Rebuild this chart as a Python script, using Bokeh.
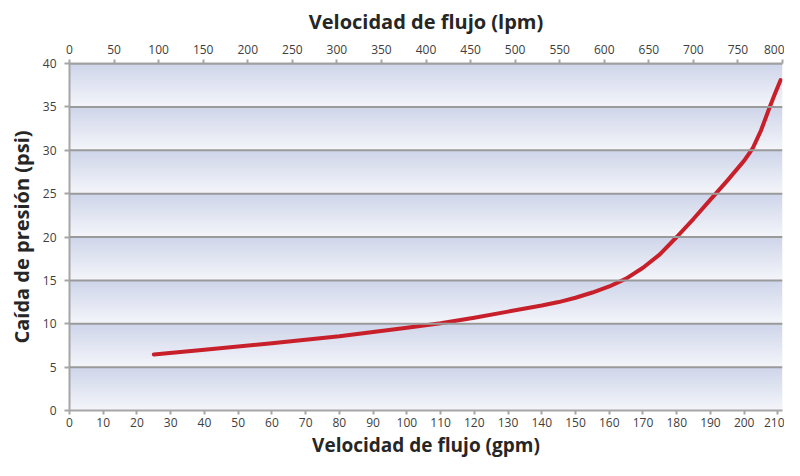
import numpy as np
from bokeh.plotting import figure
from bokeh.models import Range1d, LinearAxis, FixedTicker, Span
from bokeh.embed import file_html
from bokeh.resources import INLINE

# data (flow in gpm, pressure drop in psi)
flow_gpm = [25, 40, 60, 80, 100, 110, 120, 130, 140, 145, 150, 155, 160, 165, 170, 175,
            180, 185, 190, 195, 200, 202.5, 205, 207.5, 209, 210.8]
drop_psi = [6.45, 7.0, 7.75, 8.55, 9.55, 10.05, 10.7, 11.4, 12.1, 12.5, 13.0, 13.6, 14.3, 15.2, 16.45, 18.0,
            20.0, 22.1, 24.3, 26.5, 28.8, 30.2, 32.3, 34.9, 36.4, 38.1]

gpm_ticks = list(range(0, 211, 10))
lpm_ticks = list(range(0, 801, 50))
psi_ticks = list(range(0, 41, 5))
LPM_PER_GPM = 3.785

FONT = "Open Sans"
AX_COL = "#a6a6a6"
TXT_COL = "#404040"

x_max = lpm_ticks[-1] / LPM_PER_GPM
y_max = psi_ticks[-1]

p = figure(width=784, height=460, output_backend="svg", toolbar_location=None,
           x_range=Range1d(0, x_max), y_range=Range1d(0, y_max),
           min_border_left=69, min_border_right=2, min_border_top=63, min_border_bottom=0,
           x_axis_location=None, y_axis_location=None)
p.outline_line_color = None
p.background_fill_color = "white"
p.border_fill_color = "white"

# gradient bands background (one band per y gridline interval)
rows_per_band = 60
n_bands = len(psi_ticks) - 1
light = np.array([245, 246, 251])
dark = np.array([207, 214, 234])
img = np.zeros((rows_per_band * n_bands, 1), dtype=np.uint32)
view = img.view(dtype=np.uint8).reshape((rows_per_band * n_bands, 1, 4))
for i in range(rows_per_band * n_bands):
    frac = (i % rows_per_band) / (rows_per_band - 1)
    c = light + (dark - light) * frac
    view[i, 0, 0:3] = c.astype(np.uint8)
    view[i, 0, 3] = 255
p.image_rgba(image=[img], x=0, y=0, dw=x_max, dh=y_max)

p.xgrid.visible = False


def style_axis(ax, label, standoff, label_standoff, tick_out, title_size):
    ax.axis_label = label
    ax.axis_label_text_font = FONT
    ax.axis_label_text_font_style = "bold"
    ax.axis_label_text_font_size = title_size
    ax.axis_label_text_color = "#262626"
    ax.axis_label_standoff = label_standoff
    ax.major_label_text_font = FONT
    ax.major_label_text_font_size = "12px"
    ax.major_label_text_color = TXT_COL
    ax.major_label_standoff = standoff
    ax.axis_line_color = AX_COL
    ax.axis_line_width = 2
    ax.major_tick_line_color = AX_COL
    ax.major_tick_line_width = 2
    ax.major_tick_out = tick_out
    ax.major_tick_in = 0
    ax.minor_tick_line_color = None


yax = LinearAxis(ticker=FixedTicker(ticks=psi_ticks))
style_axis(yax, "Caída de presión (psi)", 8, 5, 5, "20px")
p.add_layout(yax, "left")

xax = LinearAxis(ticker=FixedTicker(ticks=gpm_ticks))
style_axis(xax, "Velocidad de flujo (gpm)", 3, 2, 4, "19px")
p.add_layout(xax, "below")

p.extra_x_ranges = {"lpm": Range1d(0, lpm_ticks[-1])}
tax = LinearAxis(x_range_name="lpm", ticker=FixedTicker(ticks=lpm_ticks))
style_axis(tax, "Velocidad de flujo (lpm)", 6, 7, 4, "20px")
p.add_layout(tax, "above")

for t in psi_ticks[1:]:
    p.add_layout(Span(location=t, dimension="width", line_color="#9a9a9a", line_width=2))

p.line(flow_gpm, drop_psi, line_color="#c8202b", line_width=4, line_cap="round", line_join="round")

open("out.html", "w").write(file_html(p, INLINE))
